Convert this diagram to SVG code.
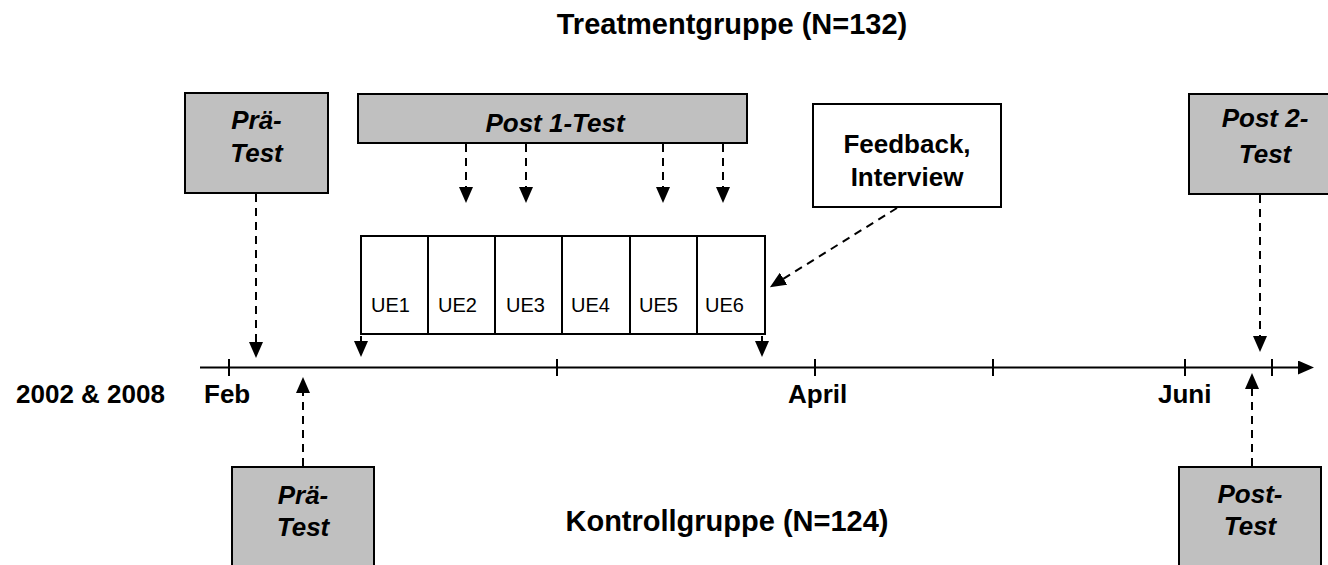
<svg xmlns="http://www.w3.org/2000/svg" width="1328" height="565" viewBox="0 0 1328 565">
<style>
.lbl{font-family:"Liberation Sans",Arial,sans-serif;font-weight:bold;font-size:26px;fill:#000}
.ttl{font-family:"Liberation Sans",Arial,sans-serif;font-weight:bold;font-size:29px;fill:#000;text-anchor:middle}
.bi{font-family:"Liberation Sans",Arial,sans-serif;font-weight:bold;font-style:italic;font-size:26px;fill:#000;text-anchor:middle}
.ue{font-family:"Liberation Sans",Arial,sans-serif;font-size:20px;fill:#000}
.gray{fill:#c0c0c0;stroke:#000;stroke-width:2}
.white{fill:#fff;stroke:#000;stroke-width:2}
.dash{stroke:#000;stroke-width:2;stroke-dasharray:8 6;fill:none}
.solid{stroke:#000;stroke-width:2;fill:none}
</style>
<defs>
<marker id="ah" markerUnits="userSpaceOnUse" markerWidth="16" markerHeight="14" refX="10" refY="7" orient="auto">
<path d="M0,0 L16,7 L0,14 z" fill="#000"/>
</marker>
</defs>
<rect width="1328" height="565" fill="#fff"/>

<text id="title-treatment" class="ttl" x="732" y="34">Treatmentgruppe (N=132)</text>
<text id="title-kontroll" class="ttl" x="727" y="531">Kontrollgruppe (N=124)</text>

<g id="timeline">
<line class="solid" x1="200" y1="367.5" x2="1308" y2="367.5" marker-end="url(#ah)"/>
<line class="solid" x1="229" y1="359" x2="229" y2="376"/>
<line class="solid" x1="557" y1="359" x2="557" y2="376"/>
<line class="solid" x1="815" y1="359" x2="815" y2="376"/>
<line class="solid" x1="993" y1="359" x2="993" y2="376"/>
<line class="solid" x1="1185" y1="359" x2="1185" y2="376"/>
<line class="solid" x1="1272" y1="359" x2="1272" y2="376"/>
<text class="lbl" x="16" y="403">2002 &amp; 2008</text>
<text class="lbl" x="204" y="403">Feb</text>
<text class="lbl" x="788" y="403">April</text>
<text class="lbl" x="1158" y="403">Juni</text>
</g>

<g id="prae-test-treatment">
<rect class="gray" x="185" y="93" width="143" height="100"/>
<text class="bi" x="256.5" y="129">Prä-</text>
<text class="bi" x="256.5" y="162">Test</text>
</g>

<g id="post1-test">
<rect class="gray" x="358" y="94" width="389" height="49"/>
<text class="bi" x="555" y="132">Post 1-Test</text>
</g>

<g id="feedback">
<rect class="white" x="813" y="104" width="188" height="103"/>
<text class="lbl" x="907" y="153" text-anchor="middle">Feedback,</text>
<text class="lbl" x="907" y="186" text-anchor="middle">Interview</text>
</g>

<g id="post2-test">
<rect class="gray" x="1189" y="94" width="143" height="100"/>
<text class="bi" x="1265" y="127">Post 2-</text>
<text class="bi" x="1265" y="163">Test</text>
</g>

<g id="ue-units">
<rect class="white" x="361" y="236" width="404" height="98"/>
<line class="solid" x1="428" y1="236" x2="428" y2="334"/>
<line class="solid" x1="495" y1="236" x2="495" y2="334"/>
<line class="solid" x1="562" y1="236" x2="562" y2="334"/>
<line class="solid" x1="630" y1="236" x2="630" y2="334"/>
<line class="solid" x1="697" y1="236" x2="697" y2="334"/>
<text class="ue" x="371" y="312">UE1</text>
<text class="ue" x="438" y="312">UE2</text>
<text class="ue" x="506" y="312">UE3</text>
<text class="ue" x="571" y="312">UE4</text>
<text class="ue" x="639" y="312">UE5</text>
<text class="ue" x="705" y="312">UE6</text>
</g>

<g id="prae-test-kontroll">
<rect class="gray" x="232" y="467" width="142" height="110"/>
<text class="bi" x="303" y="504">Prä-</text>
<text class="bi" x="303" y="536">Test</text>
</g>

<g id="post-test-kontroll">
<rect class="gray" x="1179" y="467" width="142" height="110"/>
<text class="bi" x="1250" y="503">Post-</text>
<text class="bi" x="1250" y="535">Test</text>
</g>

<g id="connectors">
<line class="dash" x1="256" y1="194" x2="256" y2="352" marker-end="url(#ah)"/>
<line class="dash" x1="466" y1="144" x2="466" y2="197" marker-end="url(#ah)"/>
<line class="dash" x1="526" y1="144" x2="526" y2="197" marker-end="url(#ah)"/>
<line class="dash" x1="663" y1="144" x2="663" y2="197" marker-end="url(#ah)"/>
<line class="dash" x1="723" y1="144" x2="723" y2="197" marker-end="url(#ah)"/>
<line class="solid" x1="361" y1="336" x2="361" y2="351" marker-end="url(#ah)"/>
<line class="solid" x1="762" y1="336" x2="762" y2="351" marker-end="url(#ah)"/>
<line class="dash" x1="897" y1="208" x2="775" y2="284" marker-end="url(#ah)"/>
<line class="dash" x1="1260" y1="195" x2="1260" y2="346" marker-end="url(#ah)"/>
<line class="dash" x1="303" y1="466" x2="303" y2="383" marker-end="url(#ah)"/>
<line class="dash" x1="1252" y1="466" x2="1252" y2="379" marker-end="url(#ah)"/>
</g>
</svg>
